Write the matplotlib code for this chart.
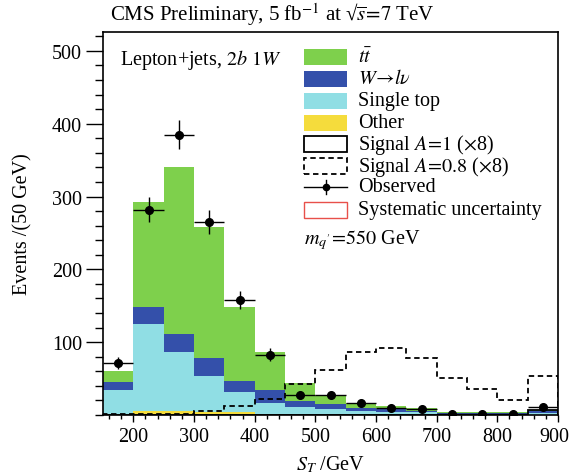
import matplotlib
matplotlib.use("Agg")
import matplotlib.pyplot as plt
import numpy as np
from matplotlib.patches import Rectangle
from matplotlib.lines import Line2D
from matplotlib.ticker import MultipleLocator
import matplotlib.transforms as mtrans

plt.rcParams['font.family'] = ['Liberation Serif', 'DejaVu Serif']
plt.rcParams['mathtext.fontset'] = 'stix'

# ---- data ----
bin_edges = [150, 200, 250, 300, 350, 400, 450, 500, 550, 600, 650, 700, 750, 800, 850, 900]
other      = [1, 5, 5, 4, 4, 1, 0.5, 0.3, 0.2, 0.2, 0.2, 0.1, 0.1, 0.1, 0.1]
single_top = [34, 120, 82, 49, 28, 16, 10, 8.3, 5, 4.3, 3.3, 1.9, 1.4, 1.7, 2.4]
w_lnu      = [11, 24, 24, 25, 15, 17, 9, 6, 4.7, 4, 2.2, 0.7, 0.7, 1.2, 3]
ttbar      = [15, 144, 230, 180, 102, 52, 24, 13, 6, 3.5, 3.8, 1.8, 1.5, 1.8, 1.3]
signal_a1  = [0, 0, 0, 0, 0, 0, 0, 0, 0, 0, 0, 0, 0, 0, 7]
signal_a08 = [1.5, 1.5, 1.5, 5, 12, 22, 43, 62, 87, 92, 78, 51, 36, 20, 53]
observed   = [71, 282, 385, 265, 158, 83, 27, 27, 17, 9, 8, 2, 2, 2, 11]
obs_err    = [8.4, 16.8, 19.6, 16.3, 12.6, 9.1, 5.2, 5.2, 4.1, 3.0, 2.8, 1.4, 1.4, 1.4, 3.3]

x_ticks = [200, 300, 400, 500, 600, 700, 800, 900]
y_ticks = [100, 200, 300, 400, 500]

legend_labels = [r"$t\bar{t}$", r"$W\!\rightarrow\! l\nu$", "Single top", "Other",
                 r"Signal $A\!=\!1$ ($\times$8)", r"Signal $A\!=\!0.8$ ($\times$8)",
                 "Observed", "Systematic uncertainty"]

c_tt = "#7ED04C"
c_w = "#3450AA"
c_st = "#90DEE4"
c_oth = "#F5DC3C"

W, H = 570, 477
fig = plt.figure(figsize=(5.7, 4.77), dpi=100)
ax = fig.add_axes([103 / W, 1 - 416 / H, (558 - 103) / W, (416 - 33) / H])

edges = np.array(bin_edges, dtype=float)
base = np.zeros(len(other))
for vals, col in [(other, c_oth), (single_top, c_st), (w_lnu, c_w), (ttbar, c_tt)]:
    v = np.array(vals, dtype=float)
    ax.stairs(base + v, edges, baseline=base, fill=True, color=col, lw=0)
    base = base + v

ax.stairs(signal_a08, edges, color="black", lw=1.3, linestyle=(0, (3, 2)))
ax.stairs(signal_a1, edges, color="black", lw=1.3)

centers = 0.5 * (edges[:-1] + edges[1:])
half = 0.5 * np.diff(edges)
ax.errorbar(centers, observed, xerr=half, yerr=obs_err, fmt="o", color="black",
            ms=5.5, lw=1.0, capsize=0)

ax.set_xlim(150, 900)
ax.set_ylim(0, 526)
ax.set_xticks(x_ticks)
ax.set_xticklabels([str(t) for t in x_ticks[:-1]] + [""])
ax.xaxis.set_minor_locator(MultipleLocator(20))
ax.yaxis.set_minor_locator(MultipleLocator(20))
ax.set_yticks(y_ticks)
ax.tick_params(axis='x', which='major', length=5, width=1, direction='out', labelsize=14.5, pad=4)
ax.tick_params(axis='x', which='minor', length=3, width=1, direction='out')
ax.tick_params(axis='y', which='major', length=12, width=1, direction='out', labelsize=14.5, pad=3)
ax.tick_params(axis='y', which='minor', length=6, width=1, direction='out')
for s in ax.spines.values():
    s.set_linewidth(1.2)

# last x tick label, nudged left so it stays inside the canvas (as in the reference)
trans = mtrans.blended_transform_factory(ax.transData, ax.transAxes) + \
    mtrans.ScaledTranslation(-4 / 100, -12.5 / 100, fig.dpi_scale_trans)
ax.text(x_ticks[-1], 0, str(x_ticks[-1]), transform=trans, ha="center", va="top",
        fontsize=14.5, clip_on=False)

ax.set_xlabel(r"$S_T$ /GeV", fontsize=14.5, labelpad=5)
ax.set_ylabel("Events /(50 GeV)", fontsize=14.5, labelpad=14)

fig.text(272 / W, 1 - 21 / H, "CMS Preliminary, 5 fb$^{-1}$ at \u221A$\\overline{s}\\!=\\!7$ TeV",
         ha="center", va="baseline", fontsize=15)
fig.text(120 / W, 1 - 60 / H, r"Lepton+jets, $2b$ $1W$", ha="left", va="center", fontsize=14.5)

# legend
sw_x0, sw_x1 = 304 / W, 347 / W
rows = [58, 80, 102, 124, 145, 167, 188, 211]
styles = [("fill", c_tt), ("fill", c_w), ("fill", c_st), ("fill", c_oth),
          ("box", "-"), ("box", "dashed"), ("line", None), ("red", None)]
for yc, (kind, arg), lab in zip(rows, styles, legend_labels):
    y0 = 1 - (yc + 8) / H
    hgt = 16 / H
    if kind == "fill":
        fig.add_artist(Rectangle((sw_x0, y0), sw_x1 - sw_x0, hgt, transform=fig.transFigure,
                                 facecolor=arg, edgecolor="none"))
    elif kind == "box":
        fig.add_artist(Rectangle((sw_x0, y0), sw_x1 - sw_x0, hgt, transform=fig.transFigure,
                                 facecolor="none", edgecolor="black", lw=1.3,
                                 linestyle=(0, (3, 2)) if arg == "dashed" else "-"))
    elif kind == "line":
        fig.add_artist(Line2D([sw_x0, sw_x1], [1 - yc / H, 1 - yc / H], transform=fig.transFigure,
                              color="black", lw=1.0))
        fig.add_artist(Line2D([(sw_x0 + sw_x1) / 2], [1 - yc / H], transform=fig.transFigure,
                              color="black", marker="o", ms=4.5))
        fig.add_artist(Line2D([(sw_x0 + sw_x1) / 2] * 2, [1 - (yc - 7) / H, 1 - (yc + 7) / H],
                              transform=fig.transFigure, color="black", lw=1.0))
    else:
        fig.add_artist(Rectangle((sw_x0, y0), sw_x1 - sw_x0, hgt, transform=fig.transFigure,
                                 facecolor="none", edgecolor="#E8504A", lw=1.0))
    fig.text(358 / W, 1 - yc / H, lab, ha="left", va="center", fontsize=14.5)

fig.text(304 / W, 1 - 240 / H, r"$m_{q'}\!=\!550$ GeV", ha="left", va="center", fontsize=14.5)

fig.savefig("out.png", dpi=100)
